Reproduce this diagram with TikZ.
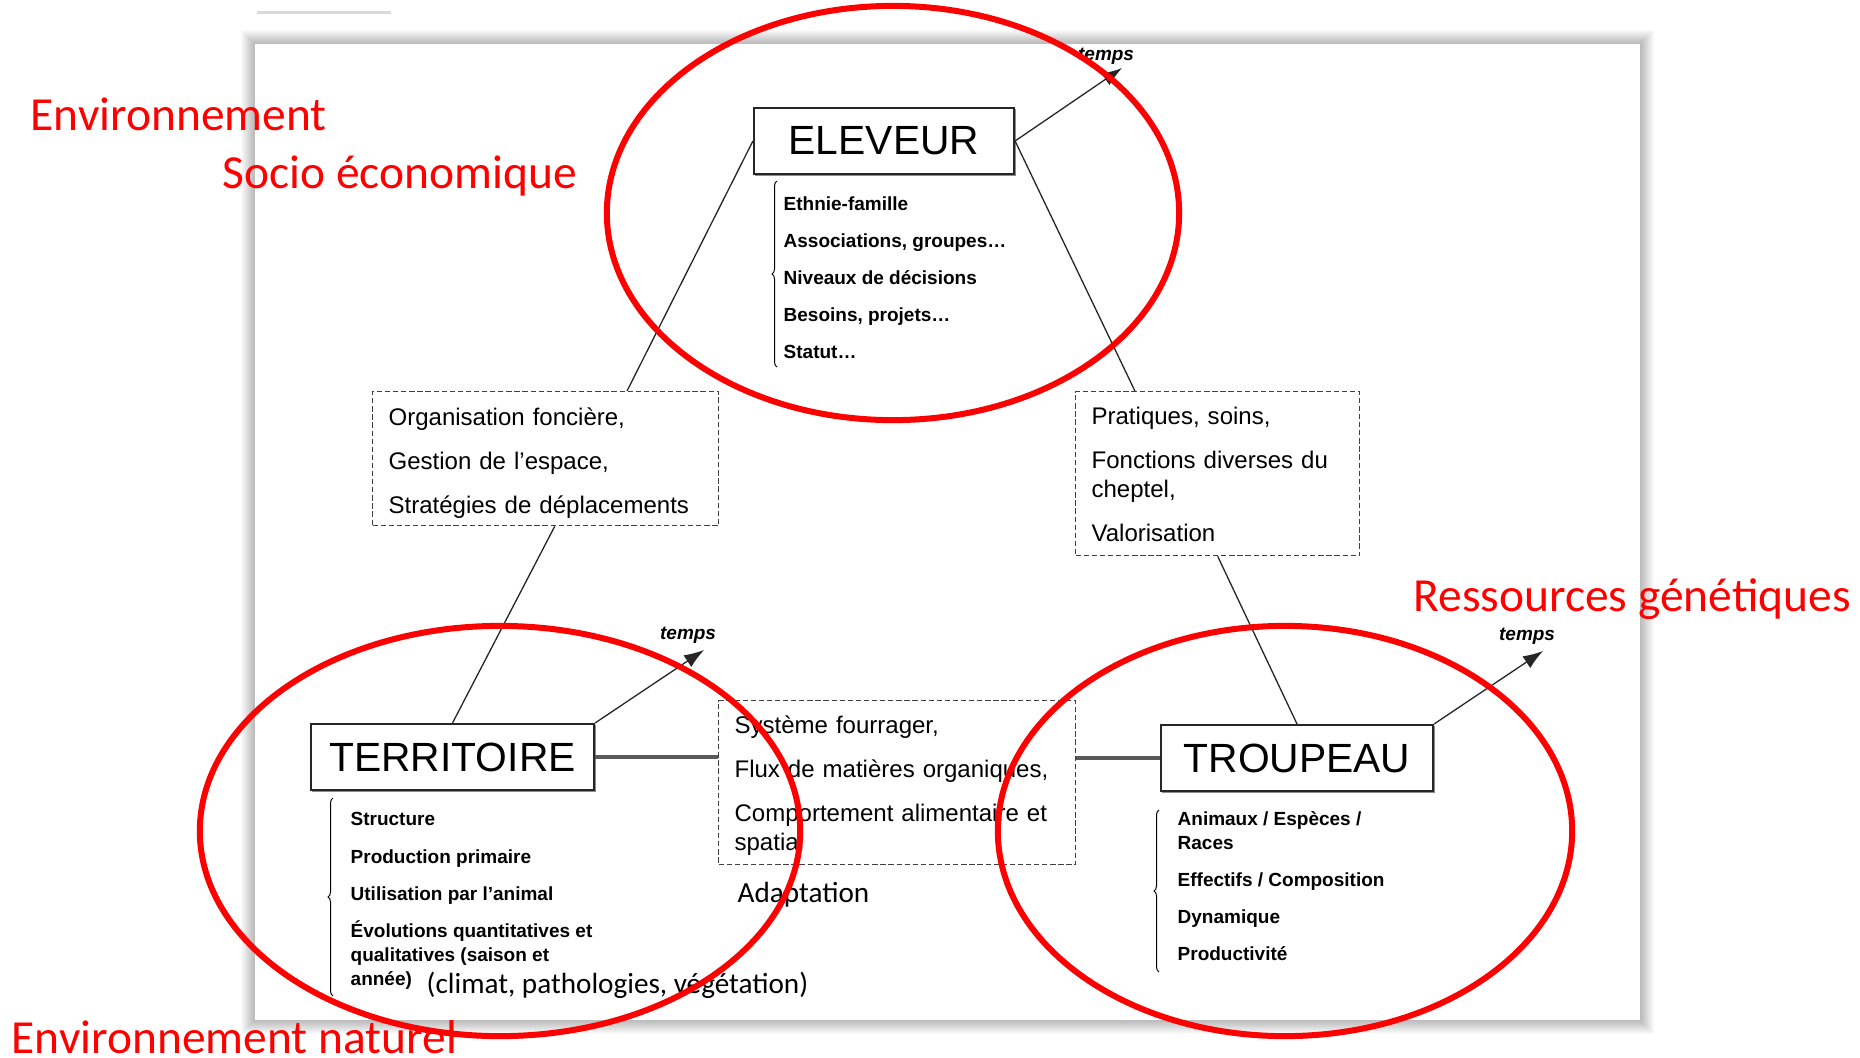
\documentclass[tikz,border=0pt]{standalone}
\usepackage{fontspec}
\setmainfont{Liberation Sans}
\newfontfamily\calfont{Carlito}
\usepackage{tikz}
\usetikzlibrary{calc}
\usetikzlibrary{arrows.meta}
\usetikzlibrary{shadows}
\usetikzlibrary{decorations.pathreplacing}
\definecolor{halo}{RGB}{255,0,0}

\begin{document}
\begin{tikzpicture}[x=0.01cm,y=-0.01cm,
	titlebox/.style={draw=black!85,line width=0.02cm,fill=white,minimum height=0.66cm,inner sep=0pt,
		font=\fontsize{11.6pt}{13pt}\selectfont,
		drop shadow={shadow xshift=0.015cm,shadow yshift=-0.015cm,fill=black!45,opacity=1}},
	dashbox/.style={draw=black!75,dash pattern=on 1.5pt off 0.8pt,line width=0.012cm,fill=white,
		anchor=north west,align=left,inner xsep=0.16cm,inner ysep=0pt,
		font=\fontsize{6.83pt}{8.25pt}\selectfont},
	itemlist/.style={anchor=north west,align=left,inner sep=0pt,font=\bfseries\fontsize{5.4pt}{6.83pt}\selectfont},
	link/.style={line width=0.013cm,draw=black!85},
	temps/.style={link,-{Latex[length=0.2cm,width=0.14cm]}},
	tempslbl/.style={font=\bfseries\itshape\fontsize{5.4pt}{6pt}\selectfont,inner sep=0pt},
	accolade/.style={decorate,decoration={brace,amplitude=0.05cm},line width=0.01cm},
	halo/.style={draw=halo,line width=0.06cm},
	redlbl/.style={anchor=base west,inner sep=0pt,text=halo,font=\calfont\fontsize{13.5pt}{16pt}\selectfont},
	ovlbl/.style={anchor=base west,inner sep=0pt,font=\calfont\fontsize{8.3pt}{10pt}\selectfont}]
	\useasboundingbox (0,0) rectangle (1860,1057);
	\fill[white] (0,0) rectangle (1860,1057);
	% page
	\draw[gray!30,line width=0.03cm] (257,12)--(391,12);
	\foreach \s in {1,...,14}
		\fill[black,opacity=0.018] ({255-\s},{44-\s}) rectangle ({1640+\s},{1020+\s});
	\fill[white] (255,44) rectangle (1640,1020);
	% main boxes
	\node[titlebox,minimum width=2.6cm] (eleveur) at (884,141) {ELEVEUR};
	\node[titlebox,minimum width=2.83cm] (territoire) at (452.5,757) {TERRITOIRE};
	\node[titlebox,minimum width=2.72cm] (troupeau) at (1297,758) {TROUPEAU};
	\node[dashbox,text width=3.14cm,minimum width=3.46cm,minimum height=1.34cm] (fonciere) at (372,391)
		{\rule{0pt}{7.4pt}Organisation foncière,\\[4.27pt] Gestion de l’espace,\\[4.27pt] Stratégies de déplacements};
	\node[dashbox,text width=2.52cm,minimum width=2.84cm,minimum height=1.64cm] (pratiques) at (1075,391)
		{\rule{0pt}{5.6pt}Pratiques, soins,\\[4.27pt] Fonctions diverses du\\ cheptel,\\[4.27pt] Valorisation};
	\node[dashbox,text width=3.25cm,minimum width=3.57cm,minimum height=1.64cm] (systeme) at (718,700)
		{\rule{0pt}{6.5pt}Système fourrager,\\[4.27pt] Flux de matières organiques,\\[4.27pt] Comportement alimentaire et\\ spatial};
	% connectors
	\draw[link] (eleveur.west)--($(fonciere.north west)!0.734!(fonciere.north east)$);
	\draw[link] (eleveur.east)--($(pratiques.north west)!0.21!(pratiques.north east)$);
	\draw[link] ($(fonciere.south west)!0.526!(fonciere.south east)$)--(territoire.north);
	\draw[link] (pratiques.south)--(troupeau.north);
	\draw[link,line width=0.035cm,draw=black!65] (territoire.east)--(territoire.east -| systeme.west);
	\draw[link,line width=0.035cm,draw=black!65] (troupeau.west -| systeme.east)--(troupeau.west);
	% temps
	\draw[temps] (eleveur.east)--++(107,-73) coordinate (tE);
	\draw[temps] (territoire.north east)--++(109,-73) coordinate (tT);
	\draw[temps] (troupeau.north east)--++(109,-73) coordinate (tR);
	\node[tempslbl] (tempsE) at ($(tE)+(-16,-12)$) {temps};
	\node[tempslbl] (tempsT) at ($(tT)+(-16,-15)$) {temps};
	\node[tempslbl] (tempsR) at ($(tR)+(-16,-15)$) {temps};
	% lists
	\node[itemlist] (listelev) at (783,196) {Ethnie-famille\\[3.7pt] Associations, groupes\dots\\[3.7pt]
		Niveaux de décisions\\[3.7pt] Besoins, projets\dots\\[3.7pt] Statut\dots};
	\node[itemlist] (listterr) at (350,812) {Structure\\[3.7pt] Production primaire\\[3.7pt]
		Utilisation par l'animal\\[3.7pt] Évolutions quantitatives et\\ qualitatives (saison et\\ année)};
	\node[itemlist] (listtroup) at (1177,811) {Animaux / Espèces /\\ Races\\[3.7pt]
		Effectifs / Composition\\[3.7pt] Dynamique\\[3.7pt] Productivité};
	\draw[accolade] (777,367)--(777,181);
	\draw[accolade] (333,996)--(333,798);
	\draw[accolade] (1159,972)--(1159,810);
	\node[ovlbl] (facteurs) at (426,993) {(climat, pathologies, végétation)};
	\node[ovlbl] (adapt) at (737,902) {Adaptation};
	% red marks
	\draw[halo] (893,213) ellipse [x radius=2.86cm,y radius=2.07cm];
	\draw[halo] (500,831) ellipse [x radius=3cm,y radius=2.05cm];
	\draw[halo] (1285,831) ellipse [x radius=2.87cm,y radius=2.05cm];
	\node[redlbl] (envsoc) at (30,130) {Environnement};
	\node[redlbl] (socio) at (222,188) {Socio économique};
	\node[redlbl] (ressgen) at (1413,611) {Ressources génétiques};
	\node[redlbl] (envnat) at (11,1053) {Environnement naturel};
\end{tikzpicture}
\end{document}
